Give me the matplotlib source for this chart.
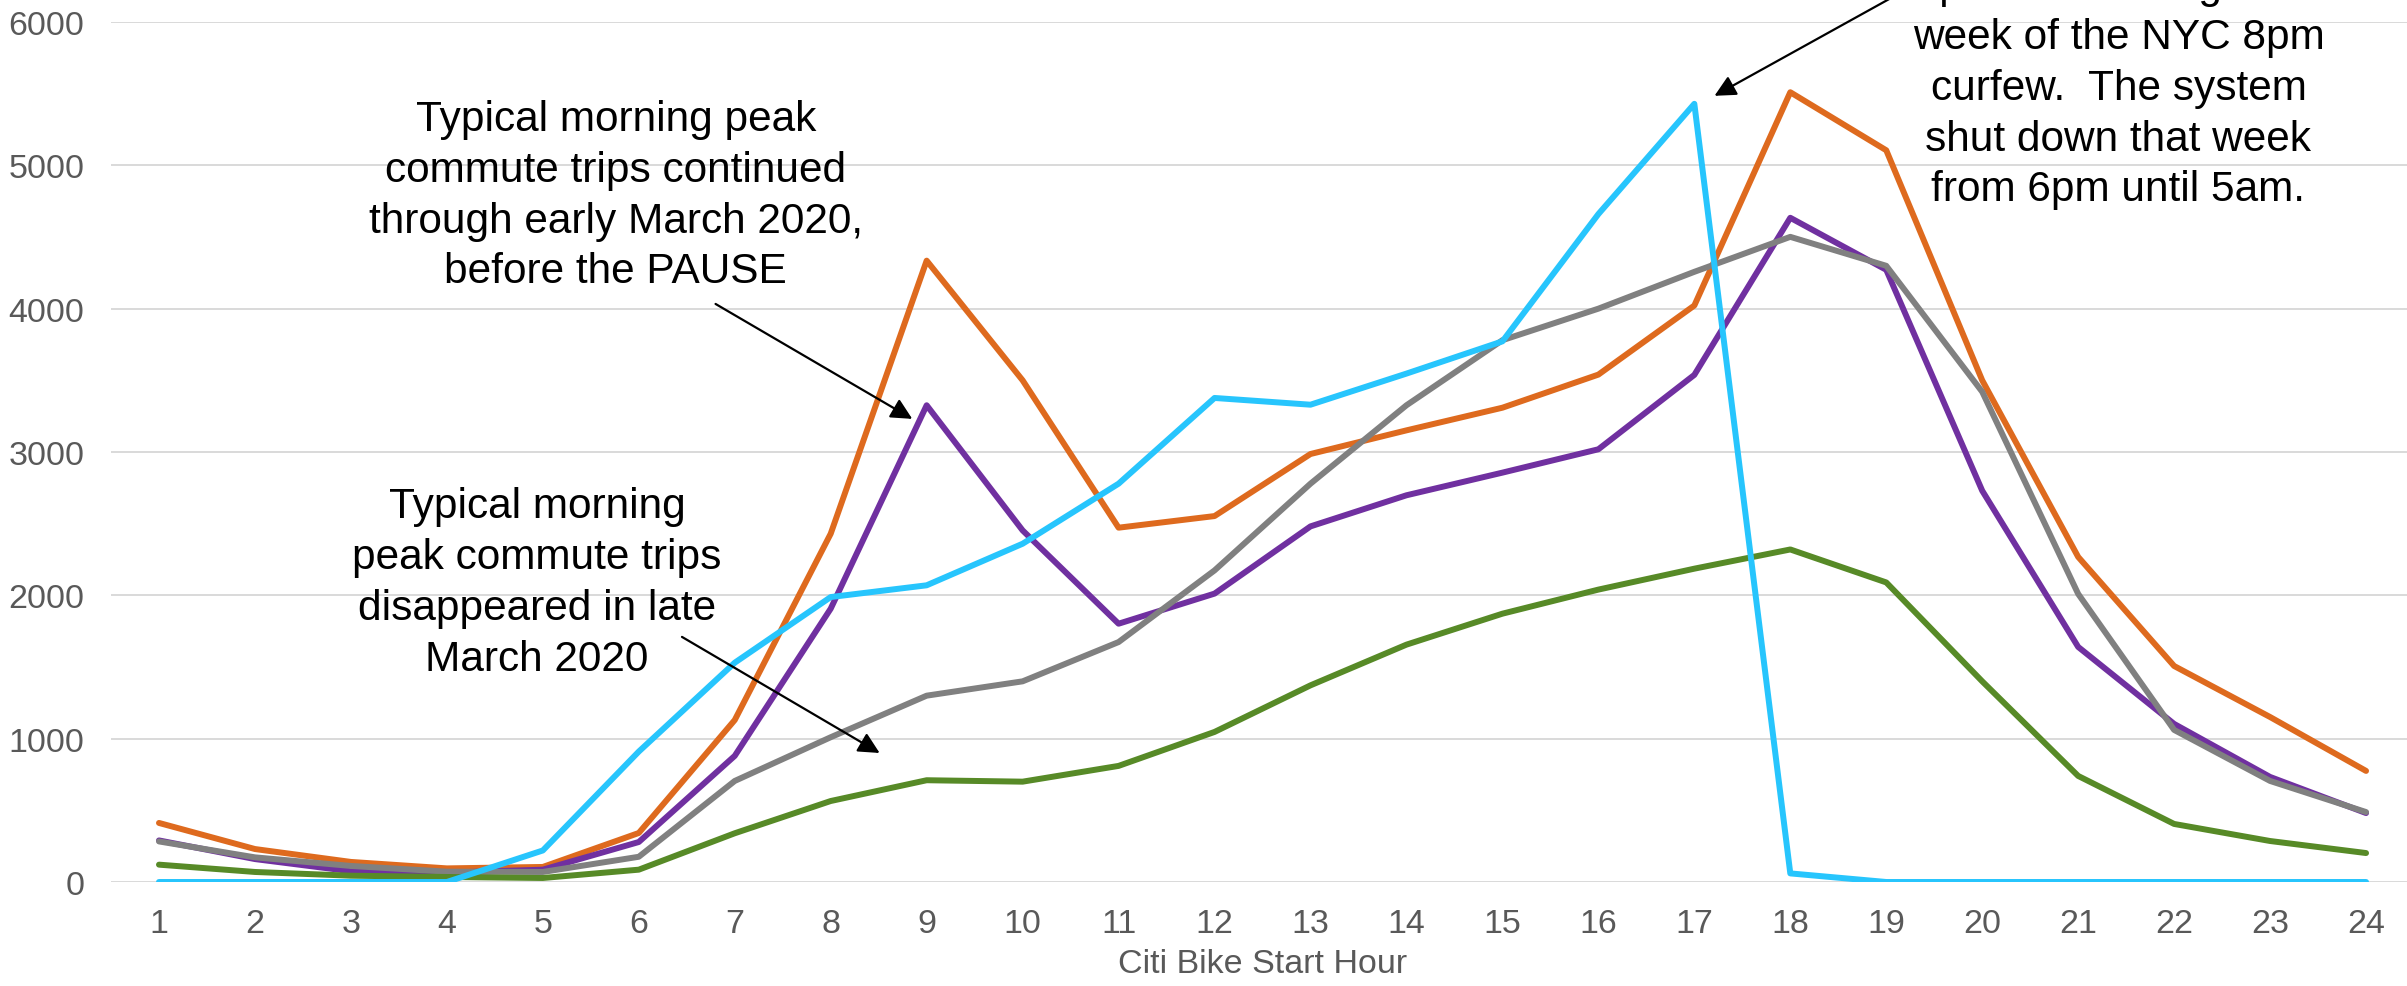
import matplotlib
matplotlib.use("Agg")
import matplotlib.pyplot as plt

plt.rcParams['font.family'] = ['Liberation Sans', 'DejaVu Sans']

hours = list(range(1, 25))
trips_orange = [412, 230, 140, 95, 105, 342, 1130, 2430, 4335, 3500, 2472, 2553,
                2986, 3151, 3309, 3540, 4022, 5510, 5105, 3500, 2268, 1507, 1151, 775]
trips_purple = [290, 160, 75, 65, 86, 279, 880, 1907, 3326, 2453, 1802, 2012,
                2481, 2698, 2856, 3019, 3538, 4634, 4271, 2730, 1640, 1103, 733, 481]
trips_gray = [283, 172, 112, 72, 70, 176, 705, 1010, 1300, 1400, 1674, 2174,
              2779, 3326, 3780, 4000, 4257, 4501, 4299, 3420, 2010, 1061, 705, 488]
trips_green = [121, 70, 44, 35, 28, 86, 340, 565, 710, 700, 810, 1047,
               1372, 1656, 1872, 2040, 2186, 2320, 2090, 1400, 740, 405, 286, 202]
trips_cyan = [0, 0, 0, 0, 220, 910, 1530, 1988, 2070, 2360, 2779, 3377,
              3330, 3547, 3772, 4660, 5429, 60, 0, 0, 0, 0, 0, 0]

series = [
    (trips_orange, "#DE6A1E"),
    (trips_purple, "#7030A0"),
    (trips_gray, "#808080"),
    (trips_green, "#578A27"),
    (trips_cyan, "#27C5FD"),
]

yticks = [0, 1000, 2000, 3000, 4000, 5000, 6000]
TICK = "#595959"

fig = plt.figure(figsize=(24.07, 9.87), dpi=100)
ax = fig.add_axes([0.04612, 0.10537, 0.9568, 0.87133])

for vals, col in series:
    ax.plot(hours, vals, color=col, lw=4.3, solid_capstyle="round",
            solid_joinstyle="round", zorder=3)

ax.set_xlim(0.5, 24.5)
ax.set_ylim(0, 6000)
ax.set_xticks(hours)
ax.set_yticks(yticks)
ax.grid(axis="y", color="#D9D9D9", lw=1.4, zorder=0)
ax.set_axisbelow(True)
for s in ax.spines.values():
    s.set_visible(False)
ax.tick_params(axis="both", length=0, labelsize=24.5, labelcolor=TICK)
ax.tick_params(axis="x", pad=19)
ax.tick_params(axis="y", pad=19)
ax.set_xlabel("Citi Bike Start Hour", fontsize=24.5, color=TICK, labelpad=6)

txt_kw = dict(fontsize=30.5, color="black", ha="center", va="top",
              linespacing=1.35, multialignment="center", zorder=5)
arr_kw = dict(arrowstyle="-|>", color="black", lw=1.6, mutation_scale=32,
              shrinkA=0, shrinkB=0)

ax.text(5.76, 5464, "Typical morning peak\ncommute trips continued\n"
        "through early March 2020,\nbefore the PAUSE", **txt_kw)
ax.annotate("", xy=(8.85, 3231), xytext=(6.80, 4033), arrowprops=arr_kw,
            annotation_clip=False)

ax.text(4.94, 2763, "Typical morning\npeak commute trips\n"
        "disappeared in late\nMarch 2020", **txt_kw)
ax.annotate("", xy=(8.51, 900), xytext=(6.45, 1710), arrowprops=arr_kw,
            annotation_clip=False)

ax.text(21.42, 6390, "Spike in evening rides\nweek of the NYC 8pm\n"
        "curfew.  The system\nshut down that week\nfrom 6pm until 5am.",
        clip_on=False, **txt_kw)
ax.annotate("", xy=(17.21, 5485), xytext=(19.41, 6301), arrowprops=arr_kw,
            annotation_clip=False)

fig.savefig("out.png", dpi=100)
